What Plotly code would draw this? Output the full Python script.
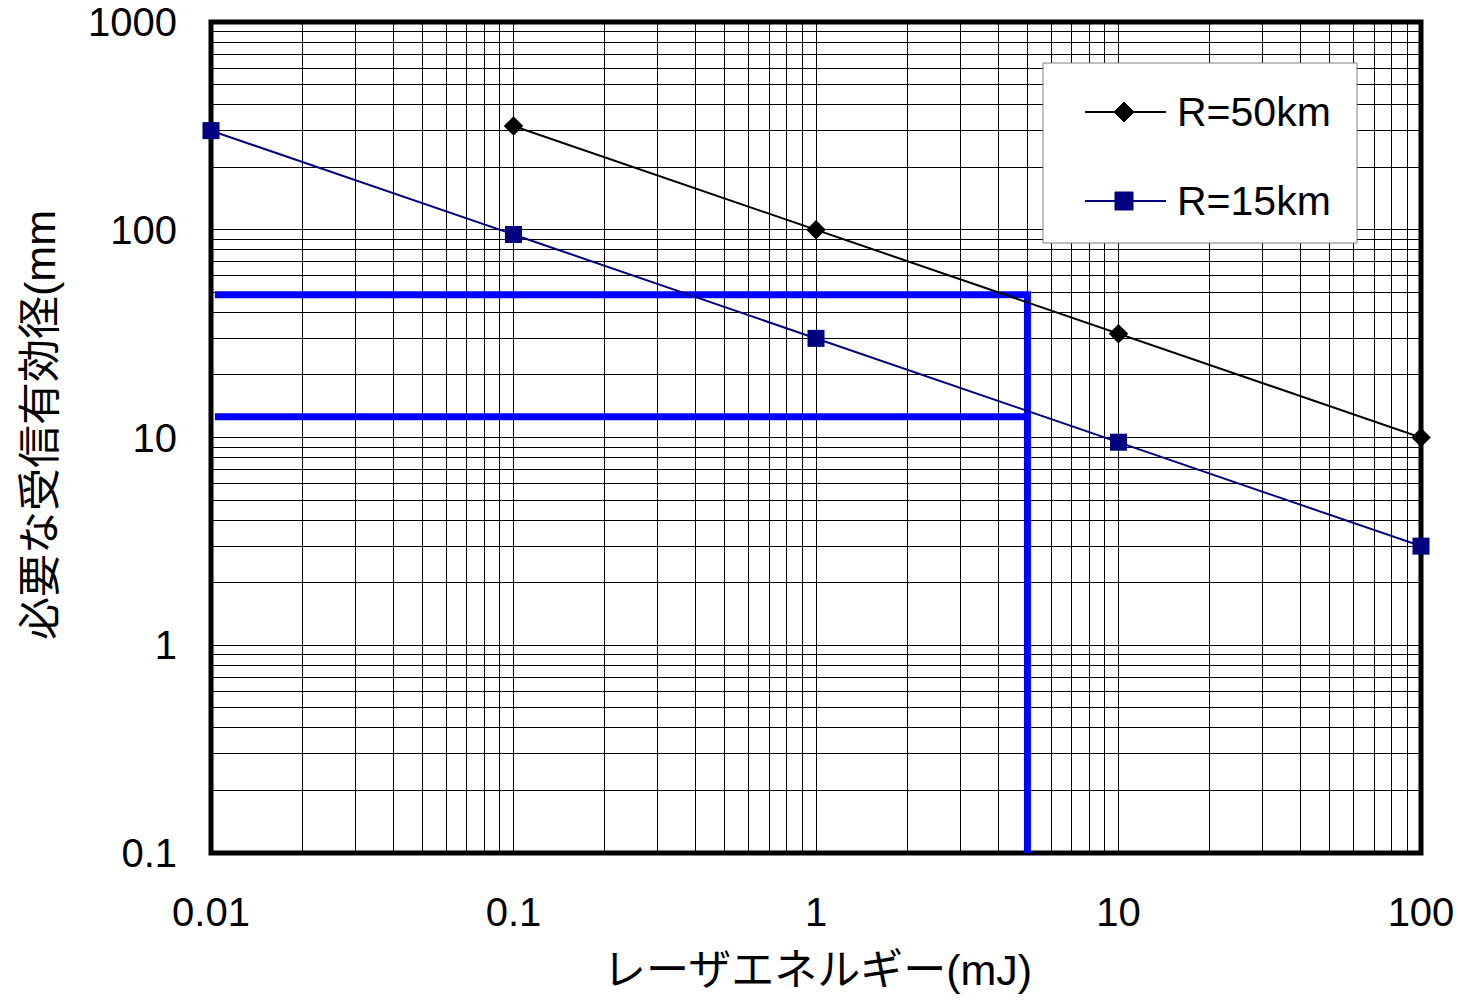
import plotly.graph_objects as go

# ---------------- data ----------------
energy_50 = [0.1, 1, 10, 100]
diam_50 = [316, 100, 31.6, 10]
energy_15 = [0.01, 0.1, 1, 10, 100]
diam_15 = [300, 94.9, 30, 9.49, 3.0]

# reference (design) lines
ref_upper_x = [0.0103, 5.0, 5.0]
ref_upper_y = [48.6, 48.6, 0.0946]
ref_lower_x = [0.0103, 5.0]
ref_lower_y = [12.6, 12.6]

x_tick_vals = [0.01, 0.1, 1, 10, 100]
x_tick_text = ["0.01", "0.1", "1", "10", "100"]
y_tick_vals = [0.1, 1, 10, 100, 1000]
y_tick_text = ["0.1", "1", "10", "100", "1000"]

series_names = ["R=50km", "R=15km"]
x_title = "レーザエネルギー(mJ)"
y_title = "必要な受信有効径(mm"

# ---------------- layout helpers ----------------
W_FIG, H_FIG = 1463, 1001
PL, PR, PT, PB = 211, 1421, 22, 853   # plot area in page pixels
PW, PH = PR - PL, PB - PT
FONT = "Liberation Sans, Arial, Noto Sans CJK JP, sans-serif"


def px(x):
    return (x - PL) / PW


def py(y):
    return (PB - y) / PH


def grid_values(decades):
    vals = []
    for d in decades[:-1]:
        for k in range(1, 10):
            vals.append(d * k)
    vals.append(decades[-1])
    return vals


def grid_text(vals, major, labels):
    out = []
    for v in vals:
        lab = ""
        for m, t in zip(major, labels):
            if abs(v - m) / m < 1e-9:
                lab = t
        out.append(lab)
    return out


xgrid = grid_values(x_tick_vals)
ygrid = grid_values(y_tick_vals)

fig = go.Figure()

fig.add_trace(go.Scatter(x=ref_upper_x, y=ref_upper_y, mode="lines",
                         line=dict(color="#0000FF", width=7),
                         showlegend=False, cliponaxis=False, hoverinfo="skip"))
fig.add_trace(go.Scatter(x=ref_lower_x, y=ref_lower_y, mode="lines",
                         line=dict(color="#0000FF", width=7),
                         showlegend=False, cliponaxis=False, hoverinfo="skip"))

fig.add_trace(go.Scatter(x=energy_50, y=diam_50, mode="lines+markers",
                         name=series_names[0],
                         line=dict(color="black", width=2),
                         marker=dict(symbol="diamond", size=15, color="black"),
                         showlegend=False, cliponaxis=False))
fig.add_trace(go.Scatter(x=energy_15, y=diam_15, mode="lines+markers",
                         name=series_names[1],
                         line=dict(color="#000080", width=2),
                         marker=dict(symbol="square", size=17, color="#000080"),
                         showlegend=False, cliponaxis=False))

shapes = [
    # plot border
    dict(type="rect", xref="paper", yref="paper", x0=0, x1=1, y0=0, y1=1,
         line=dict(color="black", width=5), layer="between"),
    # legend box
    dict(type="rect", xref="paper", yref="paper", x0=px(1043), x1=px(1357),
         y0=py(243), y1=py(63), line=dict(color="#808080", width=1),
         fillcolor="white", layer="above"),
    dict(type="line", xref="paper", yref="paper", x0=px(1085), x1=px(1166),
         y0=py(112), y1=py(112), line=dict(color="black", width=2), layer="above"),
    dict(type="path", xref="paper", yref="paper", xsizemode="pixel", ysizemode="pixel",
         xanchor=px(1124), yanchor=py(112), path="M -10 0 L 0 10 L 10 0 L 0 -10 Z",
         fillcolor="black", line=dict(color="black", width=1), layer="above"),
    dict(type="line", xref="paper", yref="paper", x0=px(1085), x1=px(1166),
         y0=py(201), y1=py(201), line=dict(color="#000080", width=2), layer="above"),
    dict(type="rect", xref="paper", yref="paper", xsizemode="pixel", ysizemode="pixel",
         xanchor=px(1124), yanchor=py(201), x0=-9, x1=9, y0=-9, y1=9,
         fillcolor="#000080", line=dict(color="#000080", width=1), layer="above"),
]

annotations = [
    dict(text=series_names[0], xref="paper", yref="paper", x=px(1175), y=py(112),
         xanchor="left", yanchor="middle", showarrow=False,
         font=dict(family=FONT, size=41, color="black")),
    dict(text=series_names[1], xref="paper", yref="paper", x=px(1175), y=py(201),
         xanchor="left", yanchor="middle", showarrow=False,
         font=dict(family=FONT, size=41, color="black")),
    dict(text=x_title, xref="paper", yref="paper", x=px(818), y=py(970),
         xanchor="center", yanchor="middle", showarrow=False,
         font=dict(family=FONT, size=43, color="black")),
    dict(text=y_title, xref="paper", yref="paper", x=px(40), y=py(425),
         xanchor="center", yanchor="middle", showarrow=False, textangle=-90,
         font=dict(family=FONT, size=43, color="black")),
]

fig.update_layout(
    width=W_FIG, height=H_FIG,
    margin=dict(l=PL, r=W_FIG - PR, t=PT, b=H_FIG - PB, autoexpand=False),
    paper_bgcolor="white", plot_bgcolor="white",
    font=dict(family=FONT, size=40, color="black"),
    shapes=shapes, annotations=annotations,
    xaxis=dict(type="log", range=[-2, 2], tickmode="array",
               tickvals=xgrid, ticktext=grid_text(xgrid, x_tick_vals, x_tick_text),
               showgrid=True, gridcolor="black", gridwidth=1,
               showline=False, zeroline=False, ticks="",
               ticklabelstandoff=32, ticklabeloverflow="allow",
               tickfont=dict(family=FONT, size=40, color="black")),
    yaxis=dict(type="log", range=[-1, 3], tickmode="array",
               tickvals=ygrid, ticktext=grid_text(ygrid, y_tick_vals, y_tick_text),
               showgrid=True, gridcolor="black", gridwidth=1,
               showline=False, zeroline=False, ticks="",
               ticklabelstandoff=33, ticklabeloverflow="allow",
               tickfont=dict(family=FONT, size=40, color="black")),
    showlegend=False,
)

fig.write_html("out.html",
               config={"displayModeBar": False},
               post_script="document.body.style.margin='0';document.body.style.overflow='hidden';")
